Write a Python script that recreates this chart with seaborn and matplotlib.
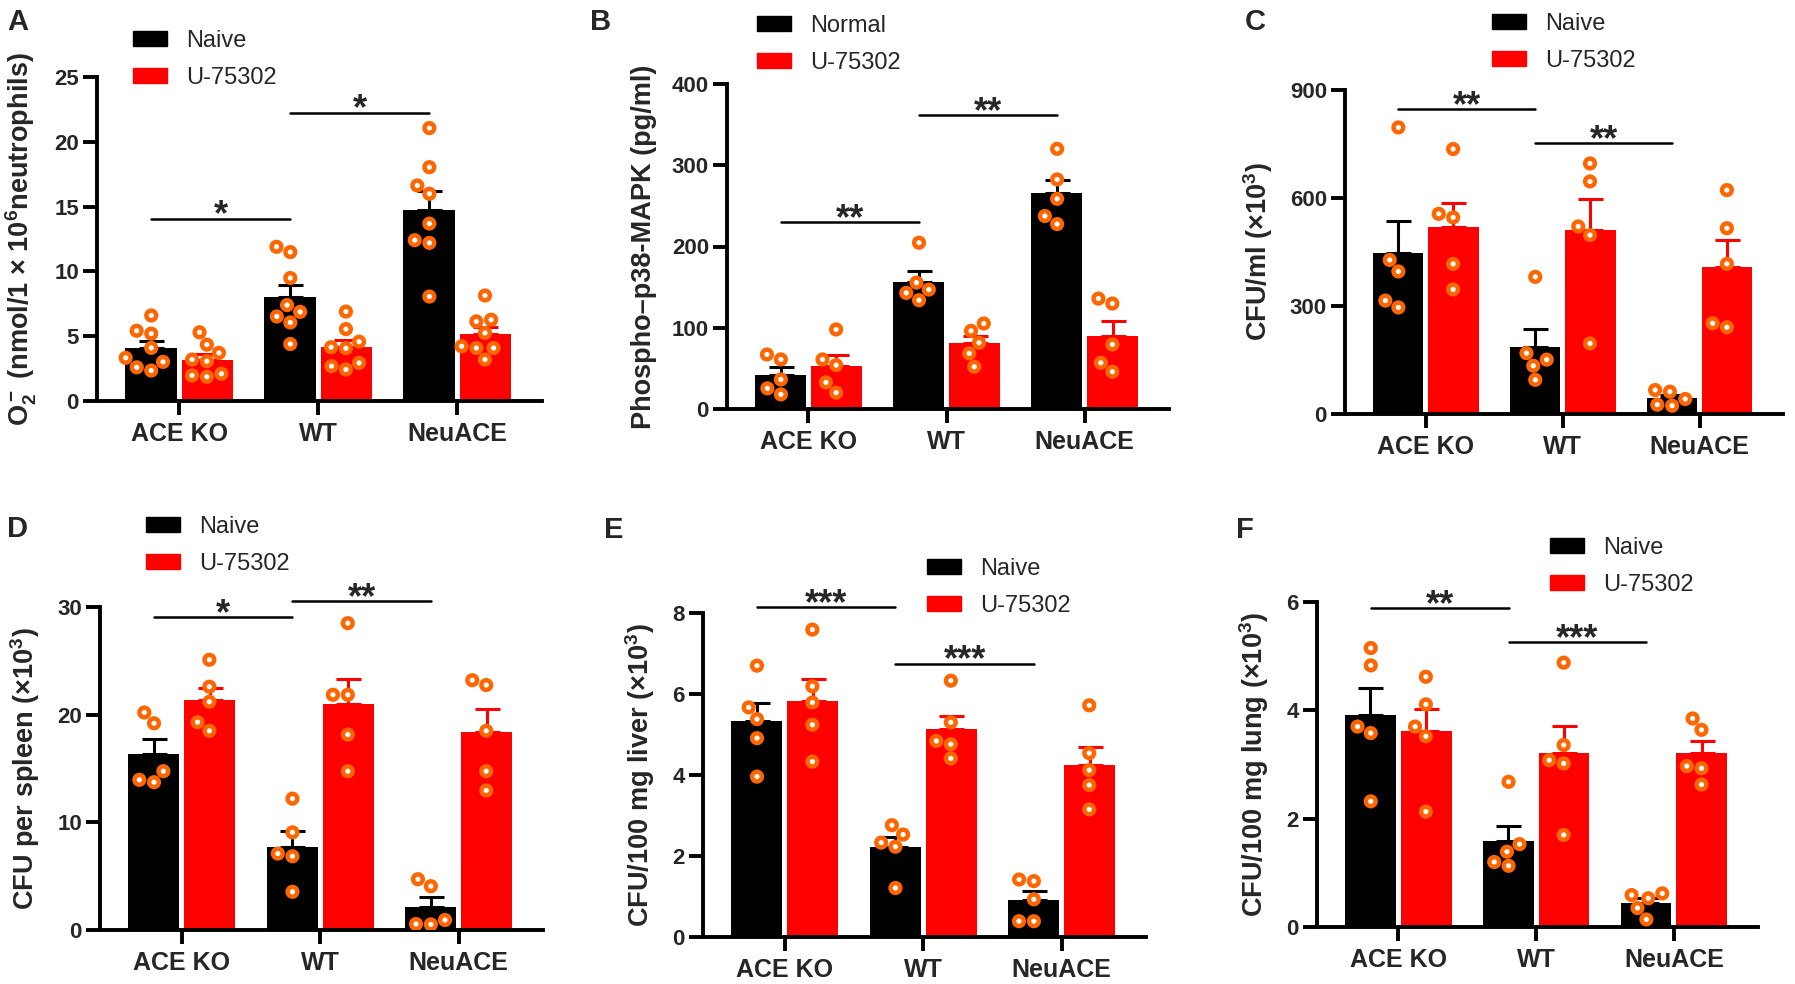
import numpy as np
import pandas as pd
import matplotlib
matplotlib.use("Agg")
import matplotlib.pyplot as plt
import matplotlib.patches as mpatches
import seaborn as sns

# groupes et traitements
groups = ["ACE KO", "WT", "NeuACE"]
drug = "U-75302"

# A : O2- (nmol/1 x 10^6 neutrophiles)
a_naive = [[5.42, 6.6, 5.2, 4.1, 3.33, 3.02, 2.35, 2.6],
           [11.49, 11.9, 9.49, 7.4, 6.88, 6.52, 6.06, 4.4],
           [21.06, 18.04, 16.63, 15.99, 13.69, 12.41, 12.2, 8.06]]
a_drug = [[5.3, 3.71, 4.35, 3.07, 3.2, 1.87, 2.1, 1.97],
          [6.9, 5.55, 4.58, 4.15, 4.07, 2.43, 2.94, 2.69],
          [8.14, 6.27, 6.14, 4.22, 4.09, 4.09, 5.25, 3.2]]

# B : phospho-p38-MAPK (pg/ml)
b_normal = [[61, 67.1, 36.4, 25.4, 18.0],
            [204.7, 147, 155.6, 142.9, 133.9],
            [320.2, 282.5, 258.7, 237.5, 227.6]]
b_drug = [[97.9, 54, 61, 32.8, 20.1],
          [105.2, 96.2, 81.5, 68.4, 52],
          [135.9, 129.8, 79.4, 56.9, 45.9]]

# C : CFU/ml (x10^3)
c_naive = [[796, 428, 396, 315, 296],
           [381, 151, 169, 134, 95],
           [66.7, 62, 41.7, 23.1, 25.9]]
c_drug = [[736, 546, 556, 417, 346],
          [696, 646, 521, 497, 196],
          [622, 516, 417, 241, 252]]

# D : CFU par rate (x10^3)
d_naive = [[20.2, 19.2, 14.75, 13.73, 13.95],
           [12.2, 9.07, 7.1, 6.85, 3.55],
           [4.72, 4.07, 0.52, 0.93, 0.56]]
d_drug = [[25.1, 22.6, 21.2, 18.5, 19.3],
          [28.5, 21.85, 21.85, 18.15, 14.75],
          [23.2, 22.75, 18.5, 14.75, 12.96]]

# E : CFU/100 mg foie (x10^3)
e_naive = [[6.7, 5.67, 5.38, 4.91, 3.96],
           [2.76, 2.53, 2.33, 2.23, 1.21],
           [1.42, 1.38, 0.93, 0.39, 0.39]]
e_drug = [[7.59, 6.19, 5.79, 5.24, 4.33],
          [6.33, 5.3, 4.84, 4.76, 4.41],
          [5.72, 4.54, 4.12, 3.75, 3.15]]

# F : CFU/100 mg poumon (x10^3)
f_naive = [[5.15, 4.83, 3.7, 3.58, 2.32],
           [2.68, 1.39, 1.53, 1.13, 1.2],
           [0.59, 0.62, 0.53, 0.35, 0.14]]
f_drug = [[4.62, 4.11, 3.7, 3.52, 2.13],
          [4.88, 3.36, 3.08, 3.02, 1.7],
          [3.85, 3.64, 2.97, 2.93, 2.63]]

# significativite : (groupe debut, groupe fin, hauteur, etoiles)
a_sig = [(0, 1, 14.07, "*"), (1, 2, 22.26, "*")]
b_sig = [(0, 1, 230, "**"), (1, 2, 362, "**")]
c_sig = [(0, 1, 847, "**"), (1, 2, 752, "**")]
d_sig = [(0, 1, 29.07, "*"), (1, 2, 30.56, "**")]
e_sig = [(0, 1, 8.15, "***"), (1, 2, 6.75, "***")]
f_sig = [(0, 1, 5.89, "**"), (1, 2, 5.26, "***")]

a_ticks = [0, 5, 10, 15, 20, 25]
b_ticks = [0, 100, 200, 300, 400]
c_ticks = [0, 300, 600, 900]
d_ticks = [0, 10, 20, 30]
e_ticks = [0, 2, 4, 6, 8]
f_ticks = [0, 2, 4, 6]

a_ylabel = r"O$_2^-$ (nmol/1 × 10$^6$neutrophils)"
b_ylabel = "Phospho–p38-MAPK (pg/ml)"
c_ylabel = r"CFU/ml (×10$^3$)"
d_ylabel = r"CFU per spleen (×10$^3$)"
e_ylabel = r"CFU/100 mg liver (×10$^3$)"
f_ylabel = r"CFU/100 mg lung (×10$^3$)"

W, H = 1795, 984
BLACK, RED, ORANGE = "#000000", "#FF0000", "#FF6600"

sns.set_theme(style="ticks")
plt.rcParams['font.family'] = ['Liberation Sans', 'DejaVu Sans']
plt.rcParams['mathtext.fontset'] = 'custom'
plt.rcParams['mathtext.rm'] = 'Liberation Sans:bold'
plt.rcParams['mathtext.bf'] = 'Liberation Sans:bold'
plt.rcParams['mathtext.it'] = 'Liberation Sans:bold'
plt.rcParams['mathtext.default'] = 'bf'

fig = plt.figure(figsize=(W / 100, H / 100), dpi=100)

# panneaux : lettre, donnees, mise en page (pixels : gauche, droite, bas, haut), legende, lettre
panneaux = [
    ("A", a_naive, a_drug, "Naive", a_sig, a_ticks, a_ylabel, (97, 542, 401, 77), (133, 40), (7, 30)),
    ("B", b_normal, b_drug, "Normal", b_sig, b_ticks, b_ylabel, (727, 1169, 409, 84), (757, 25), (590, 30)),
    ("C", c_naive, c_drug, "Naive", c_sig, c_ticks, c_ylabel, (1345, 1783, 414, 90), (1492, 23), (1245, 30)),
    ("D", d_naive, d_drug, "Naive", d_sig, d_ticks, d_ylabel, (100, 543, 930, 607), (146, 526), (7, 537)),
    ("E", e_naive, e_drug, "Naive", e_sig, e_ticks, e_ylabel, (703, 1146, 937, 613), (927, 568), (604, 538)),
    ("F", f_naive, f_drug, "Naive", f_sig, f_ticks, f_ylabel, (1317, 1758, 927, 602), (1550, 547), (1236, 538)),
]


def frame(naive, treated, lab0):
    rows = []
    for g, vals in zip(groups, naive):
        rows += [(g, lab0, v) for v in vals]
    for g, vals in zip(groups, treated):
        rows += [(g, drug, v) for v in vals]
    return pd.DataFrame(rows, columns=["group", "treatment", "value"])


for lettre, naive, treated, lab0, sig, ticks, ylabel, box, leg, pos in panneaux:
    l, r, b, t = box
    ax = fig.add_axes([l / W, 1 - b / H, (r - l) / W, (b - t) / H])
    df = frame(naive, treated, lab0)
    hue_order = [lab0, drug]

    sns.barplot(data=df, x="group", y="value", hue="treatment", order=groups,
                hue_order=hue_order, palette=[BLACK, RED], saturation=1, width=0.81,
                gap=0.09, errorbar=None, linewidth=0, legend=False, ax=ax, zorder=1)

    # barres d'erreur (SEM, vers le haut seulement)
    stats = df.groupby(["group", "treatment"])["value"].agg(["mean", "sem"])
    for cont, lab, col in zip(list(ax.containers), hue_order, [BLACK, RED]):
        for bar in cont:
            xc = bar.get_x() + bar.get_width() / 2
            g = groups[int(round(xc))]
            ax.errorbar(xc, bar.get_height(), yerr=[[0], [stats.loc[(g, lab), "sem"]]],
                        fmt="none", ecolor=col, elinewidth=2.2, capsize=9, capthick=2.2,
                        zorder=3)

    sns.swarmplot(data=df, x="group", y="value", hue="treatment", order=groups,
                  hue_order=hue_order, dodge=True, palette=["white", "white"],
                  size=7, edgecolor=ORANGE, linewidth=3.2, legend=False,
                  ax=ax, zorder=4, warn_thresh=1)

    ax.set_xlim(-0.59, 2.61)
    ax.set_ylim(0, ticks[-1])
    ax.set_yticks(ticks)
    ax.set_xlabel("")
    ax.set_ylabel(ylabel, fontsize=19.5, fontweight="bold", labelpad=11)
    sns.despine(ax=ax)
    for s in ["left", "bottom"]:
        ax.spines[s].set_linewidth(2.8)
        ax.spines[s].set_color("black")
    ax.tick_params(axis="both", direction="out", length=10, width=2.8, color="black")
    ax.tick_params(axis="y", labelsize=16, pad=3)
    ax.tick_params(axis="x", labelsize=18, pad=5)
    for lab in ax.get_xticklabels() + ax.get_yticklabels():
        lab.set_fontweight("bold")

    # lignes de significativite
    for g1, g2, y, txt in sig:
        x1, x2 = g1 - 0.2, g2 - 0.2
        ax.plot([x1, x2], [y, y], color="black", lw=1.8, clip_on=False, zorder=5)
        ax.annotate(txt, xy=((x1 + x2) / 2, y), xytext=(0, -5), textcoords="offset points",
                    ha="center", va="baseline", fontsize=26, fontweight="bold",
                    annotation_clip=False)

    # legende
    handles = [mpatches.Patch(color=BLACK, label=lab0), mpatches.Patch(color=RED, label=drug)]
    lx, ly = leg
    ax.legend(handles=handles, loc="upper left", bbox_to_anchor=(lx / W, 1 - (ly - 10) / H),
              bbox_transform=fig.transFigure, frameon=False, fontsize=17,
              handlelength=1.45, handleheight=0.62, handletextpad=0.8, labelspacing=0.62,
              borderpad=0, borderaxespad=0)

    fig.text(pos[0] / W, 1 - pos[1] / H, lettre, fontsize=21, fontweight="bold",
             va="baseline", ha="left")

plt.savefig("out.png", dpi=100)
